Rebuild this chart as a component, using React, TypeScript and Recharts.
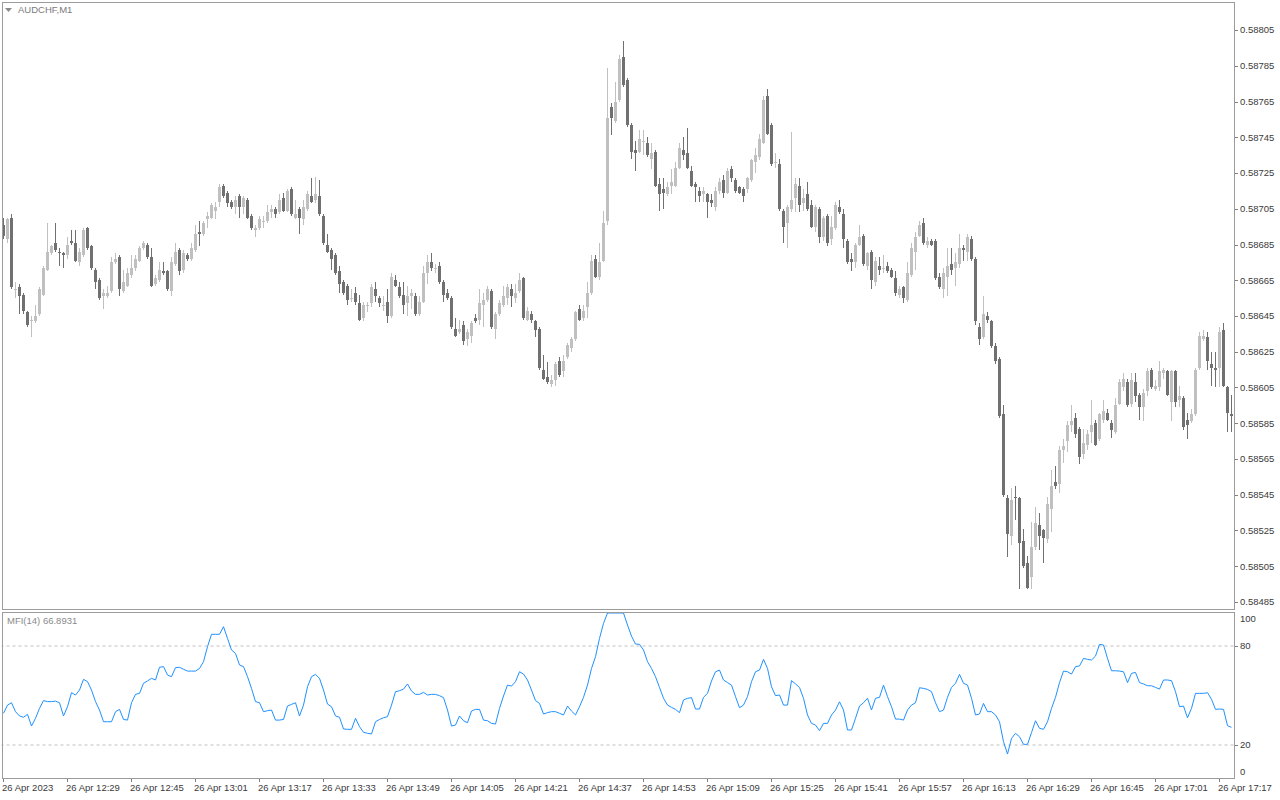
import React from 'react';
import { ComposedChart, Bar, Line, XAxis, YAxis, ReferenceLine } from 'recharts';

// ---------- data (AUDCHF, M1, 26 Apr 2023) ----------
const firstBarTime = '12:13';
const dayText = '26 Apr';
const firstLabel = '26 Apr 2023';
const tickTimes = ['12:13', '12:29', '12:45', '13:01', '13:17', '13:33', '13:49', '14:05', '14:21', '14:37', '14:53', '15:09', '15:25', '15:41', '15:57', '16:13', '16:29', '16:45', '17:01', '17:17'];
const priceTicks = [0.58485, 0.58505, 0.58525, 0.58545, 0.58565, 0.58585, 0.58605, 0.58625, 0.58645, 0.58665, 0.58685, 0.58705, 0.58725, 0.58745, 0.58765, 0.58785, 0.58805];
const mfiTicks = [0, 20, 80, 100];
const mfiLevels = [20, 80];
const mfiLabel = 'MFI(14) 66.8931';
const symbolLabel = 'AUDCHF,M1';

const opens = [
  0.58696, 0.58688, 0.58700, 0.58660, 0.58661, 0.58657, 0.58647, 0.58642, 0.58642, 0.58646,
  0.58657, 0.58671, 0.58680, 0.58686, 0.58681, 0.58680, 0.58679, 0.58687, 0.58686, 0.58675,
  0.58679, 0.58694, 0.58684, 0.58671, 0.58665, 0.58656, 0.58656, 0.58659, 0.58675, 0.58678,
  0.58659, 0.58662, 0.58668, 0.58672, 0.58676, 0.58683, 0.58685, 0.58678, 0.58663, 0.58665,
  0.58670, 0.58670, 0.58659, 0.58674, 0.58682, 0.58671, 0.58679, 0.58677, 0.58682, 0.58692,
  0.58691, 0.58699, 0.58700, 0.58704, 0.58709, 0.58718, 0.58714, 0.58709, 0.58706, 0.58712,
  0.58706, 0.58710, 0.58701, 0.58693, 0.58694, 0.58698, 0.58698, 0.58703, 0.58705, 0.58703,
  0.58711, 0.58704, 0.58716, 0.58700, 0.58705, 0.58699, 0.58705, 0.58712, 0.58710, 0.58712,
  0.58701, 0.58685, 0.58682, 0.58679, 0.58670, 0.58664, 0.58662, 0.58655, 0.58658, 0.58652,
  0.58644, 0.58651, 0.58652, 0.58660, 0.58655, 0.58651, 0.58653, 0.58645, 0.58665, 0.58661,
  0.58657, 0.58652, 0.58656, 0.58656, 0.58646, 0.58653, 0.58669, 0.58675, 0.58672, 0.58673,
  0.58664, 0.58658, 0.58655, 0.58638, 0.58636, 0.58640, 0.58632, 0.58634, 0.58644, 0.58643,
  0.58651, 0.58654, 0.58659, 0.58638, 0.58646, 0.58651, 0.58655, 0.58660, 0.58655, 0.58659,
  0.58666, 0.58643, 0.58646, 0.58642, 0.58638, 0.58615, 0.58611, 0.58607, 0.58609, 0.58620,
  0.58614, 0.58622, 0.58627, 0.58632, 0.58649, 0.58644, 0.58650, 0.58658, 0.58677, 0.58667,
  0.58676, 0.58698, 0.58762, 0.58754, 0.58766, 0.58790, 0.58777, 0.58752, 0.58738, 0.58737,
  0.58743, 0.58742, 0.58733, 0.58737, 0.58719, 0.58716, 0.58713, 0.58718, 0.58718, 0.58728,
  0.58738, 0.58736, 0.58726, 0.58719, 0.58715, 0.58713, 0.58713, 0.58710, 0.58706, 0.58715,
  0.58721, 0.58714, 0.58727, 0.58721, 0.58717, 0.58716, 0.58716, 0.58721, 0.58731, 0.58734,
  0.58742, 0.58768, 0.58752, 0.58731, 0.58730, 0.58704, 0.58697, 0.58705, 0.58711, 0.58718,
  0.58708, 0.58713, 0.58707, 0.58695, 0.58705, 0.58689, 0.58701, 0.58688, 0.58694, 0.58706,
  0.58702, 0.58687, 0.58677, 0.58675, 0.58685, 0.58690, 0.58673, 0.58681, 0.58664, 0.58673,
  0.58672, 0.58673, 0.58671, 0.58666, 0.58657, 0.58661, 0.58654, 0.58668, 0.58681, 0.58690,
  0.58697, 0.58685, 0.58687, 0.58687, 0.58667, 0.58660, 0.58667, 0.58674, 0.58672, 0.58674,
  0.58683, 0.58681, 0.58688, 0.58677, 0.58639, 0.58633, 0.58645, 0.58642, 0.58628, 0.58621,
  0.58590, 0.58543, 0.58522, 0.58544, 0.58543, 0.58519, 0.58507, 0.58499, 0.58516, 0.58528,
  0.58525, 0.58520, 0.58537, 0.58552, 0.58551, 0.58570, 0.58575, 0.58584, 0.58588, 0.58582,
  0.58568, 0.58573, 0.58580, 0.58585, 0.58576, 0.58587, 0.58591, 0.58585, 0.58580, 0.58596,
  0.58605, 0.58608, 0.58596, 0.58608, 0.58601, 0.58594, 0.58603, 0.58615, 0.58604, 0.58605,
  0.58613, 0.58614, 0.58597, 0.58614, 0.58598, 0.58599, 0.58587, 0.58586, 0.58590, 0.58616,
  0.58632, 0.58633, 0.58618, 0.58616, 0.58616, 0.58637, 0.58605, 0.58590,
];

const highs = [
  0.58700, 0.58700, 0.58702, 0.58664, 0.58663, 0.58658, 0.58648, 0.58645, 0.58651, 0.58661,
  0.58673, 0.58697, 0.58685, 0.58697, 0.58683, 0.58681, 0.58689, 0.58693, 0.58693, 0.58683,
  0.58694, 0.58695, 0.58685, 0.58672, 0.58666, 0.58660, 0.58662, 0.58678, 0.58680, 0.58679,
  0.58671, 0.58672, 0.58679, 0.58679, 0.58684, 0.58687, 0.58686, 0.58683, 0.58668, 0.58675,
  0.58675, 0.58671, 0.58678, 0.58686, 0.58683, 0.58682, 0.58680, 0.58686, 0.58696, 0.58698,
  0.58698, 0.58703, 0.58708, 0.58709, 0.58719, 0.58719, 0.58715, 0.58710, 0.58712, 0.58713,
  0.58712, 0.58711, 0.58702, 0.58696, 0.58701, 0.58701, 0.58707, 0.58707, 0.58706, 0.58713,
  0.58714, 0.58716, 0.58717, 0.58710, 0.58706, 0.58710, 0.58715, 0.58722, 0.58723, 0.58721,
  0.58702, 0.58691, 0.58683, 0.58680, 0.58673, 0.58665, 0.58663, 0.58660, 0.58661, 0.58657,
  0.58653, 0.58653, 0.58663, 0.58664, 0.58656, 0.58656, 0.58660, 0.58669, 0.58668, 0.58664,
  0.58664, 0.58662, 0.58660, 0.58658, 0.58656, 0.58673, 0.58679, 0.58680, 0.58674, 0.58675,
  0.58665, 0.58660, 0.58656, 0.58644, 0.58643, 0.58642, 0.58638, 0.58642, 0.58646, 0.58660,
  0.58658, 0.58662, 0.58660, 0.58647, 0.58654, 0.58662, 0.58663, 0.58663, 0.58663, 0.58669,
  0.58667, 0.58650, 0.58648, 0.58643, 0.58639, 0.58623, 0.58619, 0.58612, 0.58619, 0.58622,
  0.58623, 0.58630, 0.58633, 0.58648, 0.58651, 0.58651, 0.58664, 0.58679, 0.58679, 0.58686,
  0.58704, 0.58784, 0.58764, 0.58776, 0.58791, 0.58799, 0.58778, 0.58753, 0.58743, 0.58749,
  0.58749, 0.58745, 0.58742, 0.58738, 0.58722, 0.58722, 0.58720, 0.58727, 0.58731, 0.58742,
  0.58745, 0.58750, 0.58729, 0.58720, 0.58717, 0.58717, 0.58714, 0.58713, 0.58717, 0.58722,
  0.58724, 0.58728, 0.58729, 0.58722, 0.58718, 0.58717, 0.58723, 0.58733, 0.58739, 0.58747,
  0.58768, 0.58772, 0.58753, 0.58736, 0.58733, 0.58705, 0.58707, 0.58748, 0.58722, 0.58722,
  0.58716, 0.58720, 0.58710, 0.58707, 0.58706, 0.58701, 0.58702, 0.58701, 0.58709, 0.58710,
  0.58705, 0.58688, 0.58680, 0.58686, 0.58696, 0.58691, 0.58681, 0.58682, 0.58678, 0.58678,
  0.58679, 0.58675, 0.58672, 0.58670, 0.58662, 0.58662, 0.58675, 0.58686, 0.58692, 0.58698,
  0.58700, 0.58689, 0.58688, 0.58688, 0.58669, 0.58672, 0.58683, 0.58683, 0.58680, 0.58691,
  0.58685, 0.58691, 0.58690, 0.58678, 0.58641, 0.58656, 0.58647, 0.58643, 0.58630, 0.58622,
  0.58595, 0.58545, 0.58549, 0.58550, 0.58544, 0.58526, 0.58511, 0.58530, 0.58538, 0.58535,
  0.58526, 0.58544, 0.58559, 0.58561, 0.58572, 0.58576, 0.58586, 0.58595, 0.58591, 0.58583,
  0.58582, 0.58581, 0.58598, 0.58587, 0.58591, 0.58598, 0.58593, 0.58587, 0.58599, 0.58610,
  0.58613, 0.58610, 0.58613, 0.58613, 0.58602, 0.58604, 0.58616, 0.58616, 0.58609, 0.58620,
  0.58616, 0.58615, 0.58615, 0.58615, 0.58606, 0.58600, 0.58591, 0.58593, 0.58616, 0.58636,
  0.58637, 0.58636, 0.58625, 0.58625, 0.58639, 0.58641, 0.58606, 0.58601,
];

const lows = [
  0.58688, 0.58686, 0.58660, 0.58655, 0.58646, 0.58646, 0.58639, 0.58633, 0.58641, 0.58645,
  0.58656, 0.58670, 0.58679, 0.58681, 0.58673, 0.58672, 0.58677, 0.58685, 0.58675, 0.58673,
  0.58678, 0.58682, 0.58671, 0.58660, 0.58654, 0.58649, 0.58655, 0.58658, 0.58674, 0.58656,
  0.58658, 0.58661, 0.58666, 0.58670, 0.58675, 0.58682, 0.58677, 0.58661, 0.58662, 0.58664,
  0.58668, 0.58659, 0.58656, 0.58673, 0.58668, 0.58669, 0.58676, 0.58676, 0.58681, 0.58684,
  0.58690, 0.58694, 0.58699, 0.58699, 0.58706, 0.58711, 0.58706, 0.58705, 0.58702, 0.58700,
  0.58702, 0.58699, 0.58693, 0.58689, 0.58693, 0.58694, 0.58697, 0.58700, 0.58700, 0.58702,
  0.58703, 0.58703, 0.58701, 0.58699, 0.58691, 0.58696, 0.58704, 0.58708, 0.58708, 0.58701,
  0.58685, 0.58680, 0.58671, 0.58668, 0.58658, 0.58657, 0.58651, 0.58653, 0.58651, 0.58642,
  0.58642, 0.58647, 0.58650, 0.58653, 0.58650, 0.58648, 0.58641, 0.58644, 0.58661, 0.58655,
  0.58646, 0.58645, 0.58649, 0.58645, 0.58645, 0.58652, 0.58663, 0.58670, 0.58669, 0.58663,
  0.58653, 0.58654, 0.58638, 0.58633, 0.58635, 0.58629, 0.58628, 0.58630, 0.58641, 0.58640,
  0.58639, 0.58653, 0.58638, 0.58632, 0.58645, 0.58650, 0.58651, 0.58650, 0.58652, 0.58658,
  0.58643, 0.58642, 0.58641, 0.58633, 0.58615, 0.58609, 0.58607, 0.58605, 0.58606, 0.58611,
  0.58611, 0.58621, 0.58625, 0.58631, 0.58642, 0.58642, 0.58644, 0.58657, 0.58666, 0.58665,
  0.58675, 0.58696, 0.58746, 0.58753, 0.58765, 0.58773, 0.58751, 0.58733, 0.58726, 0.58736,
  0.58735, 0.58734, 0.58727, 0.58717, 0.58704, 0.58705, 0.58712, 0.58713, 0.58717, 0.58727,
  0.58732, 0.58727, 0.58717, 0.58709, 0.58709, 0.58709, 0.58700, 0.58706, 0.58704, 0.58713,
  0.58711, 0.58713, 0.58720, 0.58714, 0.58713, 0.58709, 0.58714, 0.58720, 0.58725, 0.58732,
  0.58741, 0.58746, 0.58729, 0.58728, 0.58704, 0.58686, 0.58683, 0.58703, 0.58703, 0.58703,
  0.58704, 0.58704, 0.58694, 0.58692, 0.58686, 0.58687, 0.58684, 0.58685, 0.58693, 0.58702,
  0.58683, 0.58674, 0.58670, 0.58672, 0.58684, 0.58673, 0.58671, 0.58660, 0.58662, 0.58668,
  0.58669, 0.58669, 0.58666, 0.58656, 0.58655, 0.58652, 0.58653, 0.58667, 0.58671, 0.58689,
  0.58685, 0.58683, 0.58684, 0.58665, 0.58660, 0.58655, 0.58656, 0.58668, 0.58662, 0.58672,
  0.58676, 0.58676, 0.58676, 0.58640, 0.58629, 0.58632, 0.58641, 0.58627, 0.58618, 0.58588,
  0.58544, 0.58510, 0.58517, 0.58531, 0.58492, 0.58504, 0.58492, 0.58492, 0.58514, 0.58514,
  0.58507, 0.58518, 0.58524, 0.58548, 0.58546, 0.58563, 0.58569, 0.58580, 0.58577, 0.58562,
  0.58565, 0.58570, 0.58574, 0.58572, 0.58575, 0.58585, 0.58586, 0.58577, 0.58579, 0.58595,
  0.58603, 0.58594, 0.58594, 0.58597, 0.58587, 0.58586, 0.58600, 0.58604, 0.58603, 0.58603,
  0.58610, 0.58600, 0.58586, 0.58594, 0.58594, 0.58581, 0.58576, 0.58585, 0.58589, 0.58615,
  0.58631, 0.58615, 0.58606, 0.58605, 0.58605, 0.58605, 0.58580, 0.58580,
];

const closes = [
  0.58690, 0.58699, 0.58661, 0.58660, 0.58656, 0.58648, 0.58640, 0.58643, 0.58645, 0.58660,
  0.58672, 0.58681, 0.58684, 0.58682, 0.58680, 0.58679, 0.58685, 0.58686, 0.58676, 0.58681,
  0.58693, 0.58683, 0.58672, 0.58664, 0.58655, 0.58658, 0.58658, 0.58675, 0.58677, 0.58660,
  0.58664, 0.58669, 0.58672, 0.58677, 0.58683, 0.58686, 0.58678, 0.58662, 0.58666, 0.58671,
  0.58669, 0.58660, 0.58675, 0.58681, 0.58670, 0.58680, 0.58677, 0.58683, 0.58691, 0.58691,
  0.58697, 0.58701, 0.58707, 0.58706, 0.58717, 0.58712, 0.58708, 0.58706, 0.58710, 0.58706,
  0.58711, 0.58700, 0.58694, 0.58694, 0.58699, 0.58698, 0.58703, 0.58705, 0.58702, 0.58710,
  0.58704, 0.58715, 0.58702, 0.58702, 0.58700, 0.58706, 0.58713, 0.58709, 0.58713, 0.58702,
  0.58686, 0.58681, 0.58677, 0.58669, 0.58663, 0.58658, 0.58654, 0.58655, 0.58653, 0.58643,
  0.58651, 0.58651, 0.58661, 0.58656, 0.58652, 0.58651, 0.58645, 0.58667, 0.58662, 0.58656,
  0.58651, 0.58656, 0.58658, 0.58646, 0.58653, 0.58669, 0.58675, 0.58672, 0.58672, 0.58664,
  0.58657, 0.58655, 0.58639, 0.58634, 0.58638, 0.58631, 0.58636, 0.58641, 0.58642, 0.58652,
  0.58654, 0.58660, 0.58639, 0.58646, 0.58652, 0.58656, 0.58661, 0.58656, 0.58658, 0.58665,
  0.58644, 0.58648, 0.58643, 0.58637, 0.58616, 0.58610, 0.58608, 0.58609, 0.58618, 0.58612,
  0.58620, 0.58629, 0.58632, 0.58647, 0.58643, 0.58648, 0.58658, 0.58676, 0.58667, 0.58675,
  0.58697, 0.58756, 0.58756, 0.58765, 0.58789, 0.58774, 0.58752, 0.58737, 0.58736, 0.58744,
  0.58743, 0.58735, 0.58736, 0.58718, 0.58713, 0.58714, 0.58717, 0.58720, 0.58728, 0.58739,
  0.58735, 0.58728, 0.58718, 0.58717, 0.58712, 0.58715, 0.58709, 0.58708, 0.58715, 0.58720,
  0.58714, 0.58726, 0.58722, 0.58715, 0.58714, 0.58712, 0.58722, 0.58732, 0.58735, 0.58744,
  0.58766, 0.58747, 0.58730, 0.58731, 0.58705, 0.58695, 0.58706, 0.58710, 0.58719, 0.58707,
  0.58711, 0.58705, 0.58695, 0.58706, 0.58689, 0.58700, 0.58686, 0.58695, 0.58707, 0.58703,
  0.58688, 0.58675, 0.58675, 0.58685, 0.58689, 0.58674, 0.58680, 0.58665, 0.58676, 0.58671,
  0.58672, 0.58670, 0.58667, 0.58658, 0.58660, 0.58655, 0.58669, 0.58683, 0.58689, 0.58696,
  0.58686, 0.58687, 0.58685, 0.58666, 0.58661, 0.58669, 0.58673, 0.58671, 0.58675, 0.58683,
  0.58682, 0.58689, 0.58677, 0.58642, 0.58632, 0.58646, 0.58643, 0.58628, 0.58620, 0.58589,
  0.58545, 0.58523, 0.58542, 0.58543, 0.58518, 0.58505, 0.58493, 0.58516, 0.58529, 0.58522,
  0.58521, 0.58540, 0.58550, 0.58550, 0.58570, 0.58572, 0.58584, 0.58586, 0.58579, 0.58566,
  0.58574, 0.58579, 0.58584, 0.58573, 0.58590, 0.58592, 0.58587, 0.58581, 0.58595, 0.58608,
  0.58610, 0.58595, 0.58609, 0.58600, 0.58594, 0.58602, 0.58614, 0.58605, 0.58606, 0.58614,
  0.58615, 0.58601, 0.58614, 0.58597, 0.58600, 0.58583, 0.58584, 0.58590, 0.58615, 0.58634,
  0.58634, 0.58620, 0.58616, 0.58615, 0.58636, 0.58606, 0.58591, 0.58589,
];

const mfiValues = [
  39.2, 44.2, 45.6, 40.2, 37.6, 36.8, 38.6, 31.5, 36.2, 42.2,
  46.9, 46.3, 46.3, 46.6, 45.6, 37.6, 43.2, 51.7, 50.3, 53.3,
  59.8, 58.4, 53.3, 46.3, 41.2, 34.1, 34.1, 34.1, 40.2, 41.6,
  35.5, 35.1, 45.6, 50.7, 51.3, 57.4, 58.8, 60.4, 59.4, 67.1,
  67.5, 62.4, 61.4, 66.9, 67.1, 65.9, 64.8, 64.8, 64.8, 66.4,
  70.5, 79.6, 87.1, 87.1, 87.1, 91.7, 84.6, 77.6, 75.5, 68.5,
  67.5, 61.4, 54.3, 46.3, 45.6, 40.2, 40.8, 41.2, 35.1, 35.1,
  35.5, 43.6, 44.6, 45.6, 37.6, 44.2, 55.3, 61.4, 62.8, 60.4,
  53.3, 44.8, 43.2, 37.6, 36.8, 29.7, 29.5, 29.5, 36.2, 31.1,
  27.7, 27.1, 26.7, 34.1, 35.5, 36.5, 37.2, 44.2, 52.3, 52.9,
  53.9, 57.0, 52.7, 50.7, 50.7, 51.9, 50.3, 50.7, 50.7, 49.9,
  48.7, 41.2, 31.5, 32.1, 37.6, 34.7, 33.5, 40.6, 41.6, 41.6,
  35.1, 34.7, 33.1, 32.7, 42.2, 49.7, 56.3, 55.7, 58.4, 64.4,
  63.0, 59.4, 53.3, 46.9, 45.2, 38.8, 39.6, 40.2, 40.2, 39.2,
  38.2, 43.6, 40.6, 38.2, 43.2, 48.9, 56.3, 66.4, 73.5, 84.6,
  93.7, 100, 100, 100, 100, 100, 92.7, 86.0, 81.2, 81.0,
  77.6, 70.5, 66.4, 61.4, 54.9, 48.3, 44.2, 42.8, 41.6, 39.6,
  47.3, 48.3, 48.7, 41.8, 41.8, 48.9, 51.3, 58.8, 64.4, 65.4,
  59.4, 57.8, 56.3, 49.3, 42.6, 44.2, 49.3, 58.4, 64.4, 65.4,
  71.9, 66.4, 55.3, 49.9, 50.3, 44.2, 44.2, 59.0, 57.0, 54.9,
  48.3, 38.2, 33.1, 32.1, 28.7, 33.1, 33.1, 38.2, 41.2, 46.2,
  41.2, 29.1, 29.1, 36.2, 43.6, 45.6, 48.3, 41.2, 48.3, 48.9,
  56.3, 49.3, 43.2, 35.7, 35.7, 35.1, 41.2, 44.2, 45.6, 54.7,
  54.3, 53.7, 52.3, 45.6, 40.2, 41.2, 48.9, 54.9, 57.4, 62.8,
  57.4, 56.3, 48.3, 38.2, 38.8, 45.2, 40.2, 40.2, 38.2, 34.1,
  22.0, 14.5, 24.0, 27.1, 25.0, 20.4, 20.4, 27.5, 34.7, 30.1,
  29.5, 34.1, 42.2, 48.9, 57.8, 64.8, 64.4, 63.0, 67.5, 67.9,
  72.5, 71.9, 71.5, 73.9, 81.0, 80.6, 72.5, 65.0, 65.0, 64.8,
  64.4, 57.8, 63.4, 64.0, 57.8, 57.0, 55.9, 55.9, 54.9, 53.9,
  59.4, 59.4, 59.0, 52.3, 43.2, 43.6, 36.5, 42.2, 51.3, 51.3,
  51.3, 51.7, 47.7, 41.6, 41.8, 41.6, 31.7, 30.7,
];

// ---------- styling ----------
const FONT = "'Liberation Sans', Arial, sans-serif";
const BULL = '#c0c0c0';
const BEAR = '#707070';
const FRAME = '#9c9c9c';
const AXIS_TEXT = '#3a3a3a';
const MFI_COLOR = '#1e90ff';
const W = 1280;
const PRICE_DOMAIN: [number, number] = [0.5848108, 0.5882011];

const toMinutes = (t: string) => {
  const [h, m] = t.split(':').map(Number);
  return h * 60 + m;
};
const fmtTime = (mins: number) => `${Math.floor(mins / 60)}:${String(mins % 60).padStart(2, '0')}`;
const startMin = toMinutes(firstBarTime);

const table = opens.map((o, i) => ({
  time: fmtTime(startMin + i),
  open: o,
  high: highs[i],
  low: lows[i],
  close: closes[i],
  range: [lows[i], highs[i]],
  mfi: mfiValues[i],
}));

const Candle = (props: any) => {
  const { x, y, width, height, payload } = props;
  if (x == null || y == null || !payload) return null;
  const { open, close, high, low } = payload;
  const top = Math.min(y, y + height);
  const bottom = Math.max(y, y + height);
  const span = high - low;
  const toY = (v: number) => (span === 0 ? top : top + ((high - v) / span) * (bottom - top));
  const color = close >= open ? BULL : BEAR;
  const left = Math.round(x + width / 2) - 2; // band start
  const cpx = left + 2; // central pixel column
  const yo = toY(open);
  const yc = toY(close);
  const bTop = Math.round(Math.min(yo, yc));
  const bBot = Math.max(bTop + 1, Math.round(Math.max(yo, yc)));
  const wTop = Math.round(top);
  const wBot = Math.max(wTop + 1, Math.round(bottom));
  return (
    <g>
      <rect x={cpx} y={wTop} width={1} height={wBot - wTop} fill={color} />
      <rect x={cpx - 1} y={bTop} width={3} height={bBot - bTop} fill={color} />
    </g>
  );
};

const PriceTick = (props: any) => {
  const { x, y, payload } = props;
  const yy = Math.round(y) + 0.5;
  return (
    <g>
      <line x1={x + 1} x2={x + 5} y1={yy} y2={yy} stroke="#808080" />
      <text x={x + 7} y={y} dy="0.35em" fontSize={9.5} fontFamily={FONT} fill={AXIS_TEXT} textAnchor="start">
        {Number(payload.value).toFixed(5)}
      </text>
    </g>
  );
};

const MfiTick = (props: any) => {
  const { x, y, payload } = props;
  const v = Number(payload.value);
  const shift = v === 100 ? 6 : v === 0 ? -6 : 0;
  const yy = Math.round(y) + 0.5;
  return (
    <g>
      {shift === 0 && <line x1={x + 0.5} x2={x + 4.5} y1={yy} y2={yy} stroke="#808080" />}
      <text x={x + 6.5} y={y + shift} dy="0.35em" fontSize={9.5} fontFamily={FONT} fill={AXIS_TEXT} textAnchor="start">
        {v}
      </text>
    </g>
  );
};

const TimeTick = (props: any) => {
  const { x, y, payload } = props;
  const t = String(payload.value);
  const label = t === firstBarTime ? firstLabel : `${dayText} ${t}`;
  const px = Math.floor(x) + 0.5;
  return (
    <g>
      <line x1={px} x2={px} y1={y} y2={y + 4} stroke="#808080" />
      <text x={px - 1.5} y={y + 13} fontSize={9.5} fontFamily={FONT} fill={AXIS_TEXT} textAnchor="start">
        {label}
      </text>
    </g>
  );
};

export default function App() {
  return (
    <div style={{ position: 'absolute', left: 0, top: 0, width: 1280, height: 800, background: '#ffffff', overflow: 'hidden' }}>
      <div style={{ position: 'absolute', left: 0, top: 0 }}>
        <ComposedChart
          width={W}
          height={612}
          data={table}
          margin={{ top: 3, right: 0, bottom: 3, left: 1 }}
          barCategoryGap={0}
          barGap={0}
        >
          <XAxis dataKey="time" type="category" hide />
          <YAxis
            orientation="right"
            type="number"
            domain={PRICE_DOMAIN}
            allowDataOverflow
            ticks={priceTicks}
            interval={0}
            width={47}
            axisLine={false}
            tickLine={false}
            tickSize={0}
            tickMargin={0}
            tick={<PriceTick />}
          />
          <Bar dataKey="range" shape={<Candle />} isAnimationActive={false} />
        </ComposedChart>
      </div>
      <div style={{ position: 'absolute', left: 0, top: 612 }}>
        <ComposedChart
          width={W}
          height={188}
          data={table}
          margin={{ top: 1, right: 0, bottom: 0, left: 1.5 }}
        >
          <XAxis
            dataKey="time"
            type="category"
            scale="band"
            ticks={tickTimes}
            interval={0}
            height={22}
            axisLine={false}
            tickLine={false}
            tickSize={0}
            tickMargin={0}
            tick={<TimeTick />}
          />
          <YAxis
            orientation="right"
            type="number"
            domain={[0, 100]}
            allowDataOverflow
            ticks={mfiTicks}
            interval={0}
            width={46.5}
            axisLine={false}
            tickLine={false}
            tickSize={0}
            tickMargin={0}
            tick={<MfiTick />}
          />
          {mfiLevels.map((lv) => (
            <ReferenceLine key={lv} y={lv} stroke="#c0c0c0" strokeDasharray="3 3" />
          ))}
          <Line
            dataKey="mfi"
            type="linear"
            stroke={MFI_COLOR}
            strokeWidth={1}
            dot={false}
            activeDot={false}
            isAnimationActive={false}
          />
        </ComposedChart>
      </div>
      {/* panel frames */}
      <div style={{ position: 'absolute', left: 2, top: 2, width: 1233, height: 608, border: `1px solid ${FRAME}`, boxSizing: 'border-box', pointerEvents: 'none' }} />
      <div style={{ position: 'absolute', left: 2, top: 612, width: 1233, height: 167, border: `1px solid ${FRAME}`, boxSizing: 'border-box', pointerEvents: 'none' }} />
      {/* panel captions */}
      <svg style={{ position: 'absolute', left: 4, top: 6 }} width={10} height={8}>
        <polygon points="1,2 8,2 4.5,6" fill="#8a8a8a" />
      </svg>
      <div style={{ position: 'absolute', left: 18, top: 4, fontFamily: FONT, fontSize: 9.5, lineHeight: '12px', color: '#7a7a7a', whiteSpace: 'nowrap' }}>
        {symbolLabel}
      </div>
      <div style={{ position: 'absolute', left: 7, top: 615, fontFamily: FONT, fontSize: 9.5, lineHeight: '12px', color: '#8a8a8a', whiteSpace: 'nowrap' }}>
        {mfiLabel}
      </div>
    </div>
  );
}
